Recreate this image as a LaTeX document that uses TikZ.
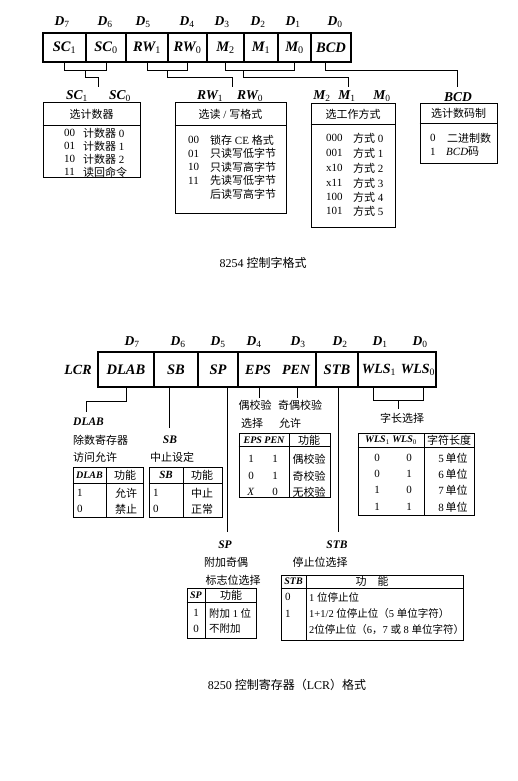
\documentclass[tikz,border=0pt]{standalone}
\usepackage{fontspec}
\setmainfont{Liberation Serif}
\newfontfamily\cjk{Noto Sans CJK SC}
\newcommand\zh[1]{{\cjk #1}}
\newcommand\sub[1]{\textsubscript{\normalfont #1}}
\usetikzlibrary{calc}
\begin{document}
\begin{tikzpicture}[x=1pt,y=-1pt,
  t/.style={inner sep=0pt, font=\fontsize{11}{11}\selectfont},
  ts/.style={inner sep=0pt, font=\fontsize{10.5}{10.5}\selectfont},
  lab/.style={inner sep=0pt, font=\fontsize{13.5}{13.5}\selectfont\bfseries\itshape},
  slab/.style={inner sep=0pt, font=\fontsize{11.5}{11.5}\selectfont\bfseries\itshape},
  hlab/.style={inner sep=0pt, font=\fontsize{10}{10}\selectfont\bfseries\itshape},
  reg/.style={draw, line width=1.1pt, inner sep=0pt, font=\fontsize{14.5}{14.5}\selectfont\bfseries\itshape},
  regb/.style={draw, line width=1.1pt, inner sep=0pt},
  box/.style={draw, line width=1pt, inner sep=0pt},
  wire/.style={line width=1pt},
  sep/.style={line width=0.9pt}]
\useasboundingbox (0,0) rectangle (518,781);
\fill[white] (0,0) rectangle (518,781);

% ===================== 8254 =====================
\foreach \x/\i in {62/7,105/6,143/5,187/4,222/3,258/2,293/1,335/0}
  \node[lab] at (\x,22) {D\sub{\i}};
\node[reg, minimum width=43pt, minimum height=29pt] (sc1) at (64.5,47.5) {SC\sub{1}};
\node[reg, minimum width=40pt, minimum height=29pt] (sc0) at (106,47.5) {SC\sub{0}};
\node[reg, minimum width=42pt, minimum height=29pt] (rw1) at (147,47.5) {RW\sub{1}};
\node[reg, minimum width=39pt, minimum height=29pt] (rw0) at (187.5,47.5) {RW\sub{0}};
\node[reg, minimum width=37pt, minimum height=29pt] (m2) at (225.5,47.5) {M\sub{2}};
\node[reg, minimum width=34pt, minimum height=29pt] (m1) at (261,47.5) {M\sub{1}};
\node[reg, minimum width=33pt, minimum height=29pt] (m0) at (294.5,47.5) {M\sub{0}};
\node[reg, minimum width=40pt, minimum height=29pt] (bcd) at (331,47.5) {BCD};

\coordinate (scend) at (98,87);
\coordinate (rwend) at (232,87);
\coordinate (mend) at (348,87);
\coordinate (bcdend) at (457,87);
\draw[wire] (sc1.south) -- ++(0,8) -| (sc0.south);
\draw[wire] ($(sc1.south)!0.5!(sc0.south)+(0,8)$) -- ++(0,7) -| (scend);
\draw[wire] (rw1.south) -- ++(0,8) -| (rw0.south);
\draw[wire] ($(rw1.south)!0.5!(rw0.south)+(0,8)$) -- ++(0,7) -| (rwend);
\draw[wire] (m2.south) -- ++(0,8) -| (m0.south);
\draw[wire] ($(m1.south)+(-18,8)$) -- ++(0,7) -| (mend);
\draw[wire] ($(bcd.south)+(-6,0)$) -- ++(0,8) -| (bcdend);

\node[lab] at (77,96) {SC\sub{1}};
\node[lab] at (120,96) {SC\sub{0}};
\node[lab] at (210,96) {RW\sub{1}};
\node[lab] at (250,96) {RW\sub{0}};
\node[lab] at (322,96) {M\sub{2}};
\node[lab] at (347,96) {M\sub{1}};
\node[lab] at (382,96) {M\sub{0}};
\node[lab] at (458,97) {BCD};

% SC box
\node[box, minimum width=97pt, minimum height=74pt] (scbox) at (91.5,140) {};
\draw[sep] (scbox.west |- 0,125) -- (scbox.east |- 0,125);
\node[t] at (91.5,114) {\zh{选计数器}};
\foreach \n/\y in {00/133,01/146,10/159,11/172}
  \node[t, anchor=west] at (64,\y) {\n};
\node[t, anchor=west] at (83,133) {\zh{计数器} 0};
\node[t, anchor=west] at (83,146) {\zh{计数器} 1};
\node[t, anchor=west] at (83,159) {\zh{计数器} 2};
\node[t, anchor=west] at (83,172) {\zh{读回命令}};

% RW box
\node[box, minimum width=111pt, minimum height=110pt] (rwbox) at (230.5,158) {};
\draw[sep] (rwbox.west |- 0,125) -- (rwbox.east |- 0,125);
\node[t] at (230.5,114) {\zh{选读} / \zh{写格式}};
\foreach \n/\y in {00/140,01/153.5,10/167,11/180.5}
  \node[t, anchor=west] at (188,\y) {\n};
\node[t, anchor=west] at (210,140) {\zh{锁存} CE \zh{格式}};
\node[t, anchor=west] at (210,153.5) {\zh{只读写低字节}};
\node[t, anchor=west] at (210,167) {\zh{只读写高字节}};
\node[t, anchor=west] at (210,180.5) {\zh{先读写低字节}};
\node[t, anchor=west] at (210,194) {\zh{后读写高字节}};

% M box
\node[box, minimum width=84pt, minimum height=123pt] (mbox) at (353,165.5) {};
\draw[sep] (mbox.west |- 0,124) -- (mbox.east |- 0,124);
\node[t] at (353,114) {\zh{选工作方式}};
\foreach \n/\k/\y in {000/0/138,001/1/153,x10/2/168,x11/3/183,100/4/197,101/5/211}{
  \node[t, anchor=west] at (326,\y) {\n};
  \node[t, anchor=west] at (353,\y) {\zh{方式} \k};
}

% BCD box
\node[box, minimum width=77pt, minimum height=59pt] (bcdbox) at (458.5,133.5) {};
\draw[sep] (bcdbox.west |- 0,123) -- (bcdbox.east |- 0,123);
\node[t] at (458.5,113.5) {\zh{选计数码制}};
\node[t, anchor=west] at (430,138) {0};
\node[t, anchor=west] at (447,138) {\zh{二进制数}};
\node[t, anchor=west] at (430,152) {1};
\node[t, anchor=west] at (446,152) {\textit{BCD}\zh{码}};

\node[inner sep=0pt, font=\fontsize{12}{12}\selectfont] (cap1) at (263,263) {8254 \zh{控制字格式}};

% ===================== 8250 LCR =====================
\foreach \x/\i in {132/7,178/6,218/5,254/4,298/3,340/2,380/1,420/0}
  \node[lab] at (\x,342) {D\sub{\i}};
\node[lab, font=\fontsize{14}{14}\selectfont\bfseries\itshape] (lcr) at (78,370) {LCR};
\node[reg, minimum width=56pt, minimum height=35pt] (dlab) at (126,369.5) {DLAB};
\node[reg, minimum width=44pt, minimum height=35pt] (sb) at (176,369.5) {SB};
\node[reg, minimum width=40pt, minimum height=35pt] (sp) at (218,369.5) {SP};
\node[regb, minimum width=78pt, minimum height=35pt] (ep) at (277,369.5) {};
\node[reg, minimum width=42pt, minimum height=35pt] (stb) at (337,369.5) {STB};
\node[regb, minimum width=78pt, minimum height=35pt] (wls) at (397,369.5) {};
\node[lab, font=\fontsize{14}{14}\selectfont\bfseries\itshape] (eps) at (258,370) {EPS};
\node[lab, font=\fontsize{14}{14}\selectfont\bfseries\itshape] (pen) at (296,370) {PEN};
\node[lab, font=\fontsize{14}{14}\selectfont\bfseries\itshape] (wls1) at (379,370) {WLS\sub{1}};
\node[lab, font=\fontsize{14}{14}\selectfont\bfseries\itshape] (wls0) at (418,370) {WLS\sub{0}};

% connectors
\coordinate (dlabend) at (86,412);
\coordinate (sbend) at (169,428);
\coordinate (spend) at (227,532);
\coordinate (epsend) at (259,398);
\coordinate (penend) at (297,398);
\coordinate (stbend) at (338,532);
\coordinate (wlsend) at (398,409);
\draw[wire] (dlab.south) -- ++(0,14) -| (dlabend);
\draw[wire] (sb.south -| sbend) -- (sbend);
\draw[wire] (sp.south -| spend) -- (spend);
\draw[wire] (ep.south -| epsend) -- (epsend);
\draw[wire] (ep.south -| penend) -- (penend);
\draw[wire] (stb.south -| stbend) -- (stbend);
\draw[wire] ($(wls.south)+(-24,0)$) -- ++(0,13) -| ($(wls.south)+(26,0)$);
\draw[wire] (wls.south |- 0,400) ++(1,0) -- (wlsend);

% DLAB labels + table
\node[slab, anchor=west] at (73,422) {DLAB};
\node[t, anchor=west] at (73,440) {\zh{除数寄存器}};
\node[t, anchor=west] at (73,457) {\zh{访问允许}};
\node[box, minimum width=70pt, minimum height=50pt] (dlabtab) at (108,492) {};
\draw[sep] (dlabtab.west |- 0,483) -- (dlabtab.east |- 0,483);
\draw[sep] (106,467) -- (106,517);
\node[hlab] at (89.5,475) {DLAB};
\node[t] at (125,475) {\zh{功能}};
\node[t, anchor=west] at (77,493) {1};
\node[t, anchor=west] at (77,509) {0};
\node[t] at (126,493) {\zh{允许}};
\node[t] at (126,509) {\zh{禁止}};

% SB labels + table
\node[slab] at (170,440) {SB};
\node[t, anchor=west] at (150,457) {\zh{中止设定}};
\node[box, minimum width=73pt, minimum height=50pt] (sbtab) at (185.5,492) {};
\draw[sep] (sbtab.west |- 0,483) -- (sbtab.east |- 0,483);
\draw[sep] (183,467) -- (183,517);
\node[hlab, font=\fontsize{11}{11}\selectfont\bfseries\itshape] at (166,475) {SB};
\node[t] at (202,475) {\zh{功能}};
\node[t, anchor=west] at (153,493) {1};
\node[t, anchor=west] at (153,509) {0};
\node[t] at (202,493) {\zh{中止}};
\node[t] at (202,509) {\zh{正常}};

% EPS/PEN labels + table
\node[t] at (255,405) {\zh{偶校验}};
\node[t] at (300,405) {\zh{奇偶校验}};
\node[t, anchor=west] at (241,423) {\zh{选择}};
\node[t] at (290,423) {\zh{允许}};
\node[box, minimum width=91pt, minimum height=64pt] (eptab) at (284.5,465) {};
\draw[sep] (eptab.west |- 0,446) -- (eptab.east |- 0,446);
\draw[sep] (289,433) -- (289,497);
\node[hlab] at (264,440) {EPS PEN};
\node[t] at (309,440) {\zh{功能}};
\foreach \a/\b/\c/\y in {1/1/偶校验/459,0/1/奇校验/476,\textit{X}/0/无校验/492}{
  \node[t] at (251,\y) {\a};
  \node[t] at (275,\y) {\b};
  \node[t] at (309,\y) {\zh{\c}};
}

% WLS labels + table
\node[t] at (402,418) {\zh{字长选择}};
\node[box, minimum width=116pt, minimum height=82pt] (wlstab) at (416,474) {};
\draw[sep] (wlstab.west |- 0,447) -- (wlstab.east |- 0,447);
\draw[sep] (424,433) -- (424,515);
\node[hlab] at (391,440) {WLS\sub{1} WLS\sub{0}};
\node[t] at (449,440) {\zh{字符长度}};
\foreach \a/\b/\c/\y in {0/0/5/458,0/1/6/474,1/0/7/490,1/1/8/507}{
  \node[t] at (377,\y) {\a};
  \node[t] at (409,\y) {\b};
  \node[t] at (453,\y) {\c\,\zh{单位}};
}

% SP labels + table
\node[slab] at (225,545) {SP};
\node[t] at (226,562) {\zh{附加奇偶}};
\node[t] at (233,580) {\zh{标志位选择}};
\node[box, minimum width=69pt, minimum height=50pt] (sptab) at (221.5,613) {};
\draw[sep] (sptab.west |- 0,602) -- (sptab.east |- 0,602);
\draw[sep] (205,588) -- (205,638);
\node[hlab] at (196,595) {SP};
\node[t] at (231,595) {\zh{功能}};
\node[t] at (196,613) {1};
\node[t] at (196,629) {0};
\node[ts, anchor=west] at (209,613) {\zh{附加} 1 \zh{位}};
\node[ts, anchor=west] at (209,629) {\zh{不附加}};

% STB labels + table
\node[slab] at (337,545) {STB};
\node[t] at (320,562) {\zh{停止位选择}};
\node[box, minimum width=182pt, minimum height=65pt] (stbtab) at (372,607.5) {};
\draw[sep] (stbtab.west |- 0,588) -- (stbtab.east |- 0,588);
\draw[sep] (306,575) -- (306,640);
\node[hlab] at (293.5,581.5) {STB};
\node[t] at (372,581.5) {\zh{功\quad 能}};
\node[t, anchor=west] at (285,597) {0};
\node[t, anchor=west] at (285,614) {1};
\node[ts, anchor=west] at (309,597) {1 \zh{位停止位}};
\node[ts, anchor=west] at (309,614) {1+1/2 \zh{位停止位（}5 \zh{单位字符）}};
\node[ts, anchor=west] at (309,630) {2\zh{位停止位（}6\zh{，}7 \zh{或} 8 \zh{单位字符）}};

\node[inner sep=0pt, font=\fontsize{12}{12}\selectfont] (cap2) at (287,685) {8250 \zh{控制寄存器（}LCR\zh{）格式}};
\end{tikzpicture}
\end{document}
